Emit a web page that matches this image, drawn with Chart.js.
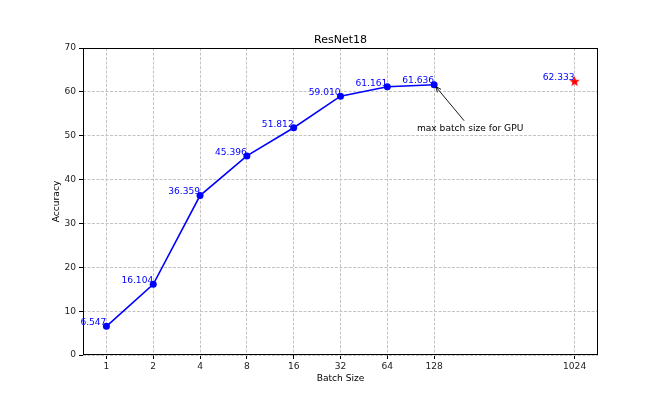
<!DOCTYPE html>
<html>
<head>
<meta charset="utf-8">
<script src="https://cdn.jsdelivr.net/npm/chart.js@4"></script>
<style>
    body { margin: 0; background: #fff; }
    canvas { display: block; }
</style>
</head>
<body>
<canvas id="chart" width="664" height="399"></canvas>
<script>
// Data
const batchSizes = [1, 2, 4, 8, 16, 32, 64, 128];
const accuracy = [6.547, 16.104, 36.359, 45.396, 51.812, 59.010, 61.161, 61.636];
const extraBatch = [1024];
const extraAccuracy = [62.333];
const tickBatches = [1, 2, 4, 8, 16, 32, 64, 128, 1024];
const tickLabels = ['1', '2', '4', '8', '16', '32', '64', '128', '1024'];
const yTicks = [0, 10, 20, 30, 40, 50, 60, 70];
const noteText = 'max batch size for GPU';
const noteAt = { x: 218, y: 51.6 };   // text position, data coords
const noteTarget = { x: 128, y: 61.636 };

const FONT = '"DejaVu Sans", sans-serif';
const SMALL = 9.1;

// Filled red star marker (matplotlib '*')
function makeStar(r, color) {
    const c = document.createElement('canvas');
    c.width = c.height = r * 2 + 2;
    const g = c.getContext('2d');
    const cx = r + 1, cy = r + 1;
    g.beginPath();
    for (let i = 0; i < 10; i++) {
        const rad = i % 2 === 0 ? r : r * 0.42;
        const a = -Math.PI / 2 + i * Math.PI / 5;
        g.lineTo(cx + rad * Math.cos(a), cy + rad * Math.sin(a));
    }
    g.closePath();
    g.fillStyle = color;
    g.fill();
    return c;
}

const labelsPlugin = {
    id: 'extras',
    afterDraw(chart) {
        const ctx = chart.ctx;
        const a = chart.chartArea;
        const xs = chart.scales.x, ys = chart.scales.y;
        ctx.save();

        // frame (all four spines)
        ctx.strokeStyle = '#000';
        ctx.lineWidth = 1;
        ctx.strokeRect(Math.round(a.left) + 0.5, Math.round(a.top) + 0.5,
            Math.round(a.right - a.left) - 1, Math.round(a.bottom - a.top) - 1);

        // value labels
        ctx.font = SMALL + 'px ' + FONT;
        ctx.fillStyle = 'blue';
        ctx.textAlign = 'right';
        ctx.textBaseline = 'bottom';
        chart.data.datasets.forEach((ds, di) => {
            chart.getDatasetMeta(di).data.forEach((pt, i) => {
                ctx.fillText(ds.data[i].y.toFixed(3), pt.x, pt.y + 1);
            });
        });

        // title and axis titles
        ctx.fillStyle = '#000';
        ctx.textAlign = 'center';
        ctx.textBaseline = 'alphabetic';
        ctx.font = '11px ' + FONT;
        ctx.fillText('ResNet18', (a.left + a.right) / 2, 42.5);
        ctx.font = SMALL + 'px ' + FONT;
        ctx.fillText('Batch Size', (a.left + a.right) / 2, 381);
        ctx.save();
        ctx.translate(59, (a.top + a.bottom) / 2);
        ctx.rotate(-Math.PI / 2);
        ctx.fillText('Accuracy', 0, 0);
        ctx.restore();

        // annotation with arrow
        const tx = xs.getPixelForValue(Math.log2(noteAt.x));
        const ty = ys.getPixelForValue(noteAt.y);
        ctx.textBaseline = 'middle';
        ctx.fillText(noteText, tx, ty);
        const px = xs.getPixelForValue(Math.log2(noteTarget.x));
        const py = ys.getPixelForValue(noteTarget.y);
        const sx = tx - 6, sy = ty - 8;
        const ang = Math.atan2(py - sy, px - sx);
        const ex = px - 2.5 * Math.cos(ang), ey = py - 2.5 * Math.sin(ang);
        ctx.strokeStyle = '#000';
        ctx.lineWidth = 0.9;
        ctx.beginPath();
        ctx.moveTo(sx, sy);
        ctx.lineTo(ex, ey);
        const hl = 6, hw = 0.4;
        ctx.moveTo(ex - hl * Math.cos(ang - hw), ey - hl * Math.sin(ang - hw));
        ctx.lineTo(ex, ey);
        ctx.lineTo(ex - hl * Math.cos(ang + hw), ey - hl * Math.sin(ang + hw));
        ctx.stroke();

        ctx.restore();
    }
};

new Chart(document.getElementById('chart'), {
    type: 'scatter',
    data: {
        datasets: [
            {
                data: batchSizes.map((b, i) => ({ x: Math.log2(b), y: accuracy[i] })),
                showLine: true,
                borderColor: 'blue',
                backgroundColor: 'blue',
                borderWidth: 1.6,
                pointRadius: 3.5,
                pointBorderWidth: 0
            },
            {
                data: extraBatch.map((b, i) => ({ x: Math.log2(b), y: extraAccuracy[i] })),
                showLine: false,
                pointStyle: makeStar(5.5, 'red')
            }
        ]
    },
    options: {
        responsive: false,
        animation: false,
        layout: { padding: { top: 48, right: 66, left: 0, bottom: 0 } },
        plugins: {
            legend: { display: false },
            tooltip: { enabled: false },
            title: { display: false }
        },
        scales: {
            x: {
                type: 'linear',
                min: -0.5,
                max: 10.5,
                afterBuildTicks: s => { s.ticks = tickBatches.map(b => ({ value: Math.log2(b) })); },
                afterFit: s => { s.height = 44; },
                ticks: {
                    callback: (v, i) => tickLabels[i],
                    color: '#222',
                    font: { family: FONT, size: SMALL },
                    padding: 2,
                    maxRotation: 0,
                    autoSkip: false
                },
                grid: { color: '#c4c4c4', tickColor: '#000', tickLength: 4, tickWidth: 1 },
                border: { display: false, dash: [3, 1.5] }
            },
            y: {
                min: 0,
                max: 70,
                afterBuildTicks: s => { s.ticks = yTicks.map(v => ({ value: v })); },
                afterFit: s => { s.width = 83; },
                ticks: {
                    color: '#222',
                    font: { family: FONT, size: SMALL },
                    padding: 3
                },
                grid: { color: '#c4c4c4', tickColor: '#000', tickLength: 4, tickWidth: 1 },
                border: { display: false, dash: [3, 1.5] }
            }
        }
    },
    plugins: [labelsPlugin]
});
</script>
</body>
</html>
